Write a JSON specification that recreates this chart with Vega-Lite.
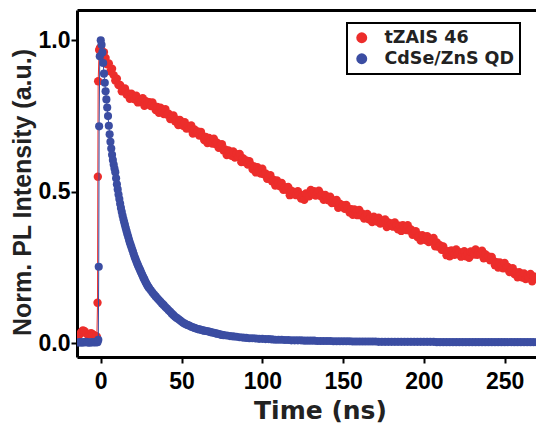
{
"$schema": "https://vega.github.io/schema/vega-lite/v6.json",
"width": 459, "height": 347,
"autosize": {"type": "none"},
"padding": {"left": 77, "top": 10, "right": 0, "bottom": 71},
"background": "white",
"datasets": {
"red": [
{"t":-14,"v":0.022},{"t":-13,"v":0.03},{"t":-12,"v":0.038},{"t":-11,"v":0.043},{"t":-10,"v":0.04},{"t":-9,"v":0.033},{"t":-8,"v":0.028},{"t":-7,"v":0.03},{"t":-6,"v":0.034},{"t":-5,"v":0.03},{"t":-4,"v":0.026},{"t":-3,"v":0.024},{"t":-2.4,"v":0.022},{"t":-2.0,"v":0.134},{"t":-1.8,"v":0.55},{"t":-1.6,"v":0.865},{"t":-1.0,"v":0.968},{"t":-0.5,"v":0.975},
{"t":0,"v":0.976},{"t":1,"v":0.956},{"t":2,"v":0.961},{"t":3,"v":0.942},{"t":4,"v":0.921},{"t":5,"v":0.924},{"t":6,"v":0.898},{"t":7,"v":0.906},{"t":8,"v":0.885},{"t":9,"v":0.867},
{"t":10,"v":0.873},{"t":11,"v":0.852},{"t":12,"v":0.853},{"t":13,"v":0.832},{"t":14,"v":0.839},{"t":15,"v":0.841},{"t":16,"v":0.821},{"t":17,"v":0.825},{"t":18,"v":0.807},{"t":19,"v":0.824},
{"t":20,"v":0.815},{"t":21,"v":0.805},{"t":22,"v":0.817},{"t":23,"v":0.795},{"t":24,"v":0.804},{"t":25,"v":0.797},{"t":26,"v":0.809},{"t":27,"v":0.784},{"t":28,"v":0.799},{"t":29,"v":0.789},
{"t":30,"v":0.796},{"t":31,"v":0.783},{"t":32,"v":0.795},{"t":33,"v":0.783},{"t":34,"v":0.770},{"t":35,"v":0.780},{"t":36,"v":0.761},{"t":37,"v":0.778},{"t":38,"v":0.767},{"t":39,"v":0.757},
{"t":40,"v":0.773},{"t":41,"v":0.755},{"t":42,"v":0.758},{"t":43,"v":0.740},{"t":44,"v":0.750},{"t":45,"v":0.752},{"t":46,"v":0.733},{"t":47,"v":0.738},{"t":48,"v":0.720},{"t":49,"v":0.737},
{"t":50,"v":0.729},{"t":51,"v":0.718},{"t":52,"v":0.730},{"t":53,"v":0.709},{"t":54,"v":0.717},{"t":55,"v":0.709},{"t":56,"v":0.719},{"t":57,"v":0.692},{"t":58,"v":0.706},{"t":59,"v":0.694},
{"t":60,"v":0.699},{"t":61,"v":0.686},{"t":62,"v":0.698},{"t":63,"v":0.685},{"t":64,"v":0.671},{"t":65,"v":0.681},{"t":66,"v":0.661},{"t":67,"v":0.678},{"t":68,"v":0.667},{"t":69,"v":0.659},
{"t":70,"v":0.675},{"t":71,"v":0.658},{"t":72,"v":0.662},{"t":73,"v":0.645},{"t":74,"v":0.655},{"t":75,"v":0.657},{"t":76,"v":0.636},{"t":77,"v":0.640},{"t":78,"v":0.621},{"t":79,"v":0.637},
{"t":80,"v":0.627},{"t":81,"v":0.619},{"t":82,"v":0.633},{"t":83,"v":0.613},{"t":84,"v":0.624},{"t":85,"v":0.615},{"t":86,"v":0.625},{"t":87,"v":0.598},{"t":88,"v":0.611},{"t":89,"v":0.598},
{"t":90,"v":0.604},{"t":91,"v":0.590},{"t":92,"v":0.601},{"t":93,"v":0.589},{"t":94,"v":0.574},{"t":95,"v":0.584},{"t":96,"v":0.564},{"t":97,"v":0.581},{"t":98,"v":0.570},{"t":99,"v":0.560},
{"t":100,"v":0.576},{"t":101,"v":0.558},{"t":102,"v":0.561},{"t":103,"v":0.543},{"t":104,"v":0.552},{"t":105,"v":0.555},{"t":106,"v":0.535},{"t":107,"v":0.539},{"t":108,"v":0.521},{"t":109,"v":0.538},
{"t":110,"v":0.529},{"t":111,"v":0.518},{"t":112,"v":0.529},{"t":113,"v":0.507},{"t":114,"v":0.515},{"t":115,"v":0.507},{"t":116,"v":0.516},{"t":117,"v":0.489},{"t":118,"v":0.504},{"t":119,"v":0.493},
{"t":120,"v":0.500},{"t":121,"v":0.489},{"t":122,"v":0.502},{"t":123,"v":0.491},{"t":124,"v":0.478},{"t":125,"v":0.489},{"t":126,"v":0.474},{"t":127,"v":0.495},{"t":128,"v":0.489},{"t":129,"v":0.485},
{"t":130,"v":0.506},{"t":131,"v":0.493},{"t":132,"v":0.502},{"t":133,"v":0.488},{"t":134,"v":0.500},{"t":135,"v":0.504},{"t":136,"v":0.486},{"t":137,"v":0.491},{"t":138,"v":0.474},{"t":139,"v":0.490},
{"t":140,"v":0.482},{"t":141,"v":0.472},{"t":142,"v":0.484},{"t":143,"v":0.463},{"t":144,"v":0.472},{"t":145,"v":0.463},{"t":146,"v":0.473},{"t":147,"v":0.447},{"t":148,"v":0.461},{"t":149,"v":0.450},
{"t":150,"v":0.456},{"t":151,"v":0.444},{"t":152,"v":0.457},{"t":153,"v":0.445},{"t":154,"v":0.432},{"t":155,"v":0.443},{"t":156,"v":0.424},{"t":157,"v":0.442},{"t":158,"v":0.432},{"t":159,"v":0.423},
{"t":160,"v":0.440},{"t":161,"v":0.423},{"t":162,"v":0.428},{"t":163,"v":0.412},{"t":164,"v":0.423},{"t":165,"v":0.427},{"t":166,"v":0.409},{"t":167,"v":0.415},{"t":168,"v":0.400},{"t":169,"v":0.418},
{"t":170,"v":0.411},{"t":171,"v":0.402},{"t":172,"v":0.415},{"t":173,"v":0.395},{"t":174,"v":0.405},{"t":175,"v":0.398},{"t":176,"v":0.409},{"t":177,"v":0.384},{"t":178,"v":0.399},{"t":179,"v":0.388},
{"t":180,"v":0.396},{"t":181,"v":0.385},{"t":182,"v":0.399},{"t":183,"v":0.389},{"t":184,"v":0.376},{"t":185,"v":0.388},{"t":186,"v":0.371},{"t":187,"v":0.390},{"t":188,"v":0.381},{"t":189,"v":0.374},
{"t":190,"v":0.390},{"t":191,"v":0.372},{"t":192,"v":0.376},{"t":193,"v":0.358},{"t":194,"v":0.367},{"t":195,"v":0.370},{"t":196,"v":0.351},{"t":197,"v":0.356},{"t":198,"v":0.339},{"t":199,"v":0.357},
{"t":200,"v":0.350},{"t":201,"v":0.341},{"t":202,"v":0.354},{"t":203,"v":0.334},{"t":204,"v":0.344},{"t":205,"v":0.337},{"t":206,"v":0.348},{"t":207,"v":0.320},{"t":208,"v":0.333},{"t":209,"v":0.319},
{"t":210,"v":0.324},{"t":211,"v":0.309},{"t":212,"v":0.320},{"t":213,"v":0.306},{"t":214,"v":0.291},{"t":215,"v":0.304},{"t":216,"v":0.287},{"t":217,"v":0.307},{"t":218,"v":0.298},{"t":219,"v":0.292},
{"t":220,"v":0.310},{"t":221,"v":0.295},{"t":222,"v":0.301},{"t":223,"v":0.286},{"t":224,"v":0.298},{"t":225,"v":0.304},{"t":226,"v":0.287},{"t":227,"v":0.295},{"t":228,"v":0.282},{"t":229,"v":0.303},
{"t":230,"v":0.299},{"t":231,"v":0.293},{"t":232,"v":0.310},{"t":233,"v":0.292},{"t":234,"v":0.302},{"t":235,"v":0.295},{"t":236,"v":0.306},{"t":237,"v":0.281},{"t":238,"v":0.294},{"t":239,"v":0.282},
{"t":240,"v":0.287},{"t":241,"v":0.274},{"t":242,"v":0.285},{"t":243,"v":0.273},{"t":244,"v":0.258},{"t":245,"v":0.268},{"t":246,"v":0.250},{"t":247,"v":0.267},{"t":248,"v":0.257},{"t":249,"v":0.248},
{"t":250,"v":0.265},{"t":251,"v":0.248},{"t":252,"v":0.252},{"t":253,"v":0.235},{"t":254,"v":0.245},{"t":255,"v":0.248},{"t":256,"v":0.229},{"t":257,"v":0.234},{"t":258,"v":0.218},{"t":259,"v":0.235},
{"t":260,"v":0.227},{"t":261,"v":0.217},{"t":262,"v":0.231},{"t":263,"v":0.212},{"t":264,"v":0.223},{"t":265,"v":0.217},{"t":266,"v":0.229},{"t":267,"v":0.205},{"t":268,"v":0.221}
],
"blue": [
{"t":-14,"v":0.003},{"t":-13,"v":0.004},{"t":-12,"v":0.002},{"t":-11,"v":0.004},{"t":-10,"v":0.003},{"t":-9,"v":0.005},{"t":-8,"v":0.003},{"t":-7,"v":0.002},{"t":-6,"v":0.004},{"t":-5,"v":0.003},{"t":-4,"v":0.004},{"t":-3,"v":0.003},{"t":-2,"v":0.004},
{"t":-1.5,"v":0.012},{"t":-1.25,"v":0.253},{"t":-1.0,"v":0.716},{"t":-0.6,"v":0.947},
{"t":0,"v":1.0},{"t":0.5,"v":0.985},{"t":1,"v":0.96},{"t":1.5,"v":0.925},{"t":2,"v":0.89},{"t":2.5,"v":0.86},{"t":3,"v":0.832},{"t":3.5,"v":0.805},{"t":4,"v":0.778},{"t":4.5,"v":0.75},
{"t":5,"v":0.718},{"t":5.5,"v":0.69},{"t":6,"v":0.665},{"t":6.5,"v":0.643},{"t":7,"v":0.622},{"t":7.5,"v":0.605},{"t":8,"v":0.59},{"t":8.5,"v":0.577},{"t":9,"v":0.565},{"t":9.5,"v":0.545},
{"t":10,"v":0.525},{"t":10.5,"v":0.508},{"t":11,"v":0.491},{"t":11.5,"v":0.476},{"t":12,"v":0.461},{"t":12.5,"v":0.447},{"t":13,"v":0.434},{"t":13.5,"v":0.422},{"t":14,"v":0.41},{"t":14.5,"v":0.4},
{"t":15,"v":0.39},{"t":15.5,"v":0.38},{"t":16,"v":0.37},{"t":16.5,"v":0.36},{"t":17,"v":0.351},{"t":17.5,"v":0.342},{"t":18,"v":0.333},{"t":18.5,"v":0.325},{"t":19,"v":0.317},{"t":19.5,"v":0.309},
{"t":20,"v":0.301},{"t":20.5,"v":0.293},{"t":21,"v":0.285},{"t":21.5,"v":0.278},{"t":22,"v":0.271},{"t":22.5,"v":0.264},{"t":23,"v":0.258},{"t":23.5,"v":0.252},{"t":24,"v":0.246},{"t":24.5,"v":0.24},
{"t":25,"v":0.234},{"t":25.5,"v":0.228},{"t":26,"v":0.222},{"t":26.5,"v":0.216},{"t":27,"v":0.211},{"t":27.5,"v":0.205},{"t":28,"v":0.2},{"t":28.5,"v":0.195},{"t":29,"v":0.19},{"t":29.5,"v":0.186},
{"t":30,"v":0.182},{"t":31,"v":0.175},{"t":32,"v":0.168},{"t":33,"v":0.161},{"t":34,"v":0.155},{"t":35,"v":0.149},{"t":36,"v":0.143},{"t":37,"v":0.137},{"t":38,"v":0.131},{"t":39,"v":0.126},
{"t":40,"v":0.12},{"t":41,"v":0.115},{"t":42,"v":0.109},{"t":43,"v":0.104},{"t":44,"v":0.098},{"t":45,"v":0.093},{"t":46,"v":0.088},{"t":47,"v":0.084},{"t":48,"v":0.08},{"t":49,"v":0.076},
{"t":50,"v":0.072},{"t":51,"v":0.068},{"t":52,"v":0.065},{"t":53,"v":0.062},{"t":54,"v":0.06},{"t":55,"v":0.058},{"t":56,"v":0.055},{"t":57,"v":0.053},{"t":58,"v":0.051},{"t":59,"v":0.049},
{"t":60,"v":0.047},{"t":61,"v":0.046},{"t":62,"v":0.045},{"t":63,"v":0.043},{"t":64,"v":0.042},{"t":65,"v":0.041},{"t":66,"v":0.04},{"t":67,"v":0.039},{"t":68,"v":0.037},{"t":69,"v":0.036},
{"t":70,"v":0.035},{"t":71,"v":0.033},{"t":72,"v":0.032},{"t":73,"v":0.031},{"t":74,"v":0.029},{"t":75,"v":0.028},
{"t":76,"v":0.027},{"t":78,"v":0.026},{"t":80,"v":0.024},{"t":82,"v":0.023},{"t":84,"v":0.022},{"t":86,"v":0.02},{"t":88,"v":0.019},{"t":90,"v":0.018},{"t":92,"v":0.017},{"t":94,"v":0.017},
{"t":96,"v":0.016},{"t":98,"v":0.015},{"t":100,"v":0.015},{"t":102,"v":0.014},{"t":104,"v":0.014},{"t":106,"v":0.013},{"t":108,"v":0.012},{"t":110,"v":0.012},{"t":112,"v":0.012},{"t":114,"v":0.011},
{"t":116,"v":0.011},{"t":118,"v":0.01},{"t":120,"v":0.01},{"t":122,"v":0.01},{"t":124,"v":0.01},{"t":126,"v":0.009},{"t":128,"v":0.009},{"t":130,"v":0.009},{"t":132,"v":0.009},{"t":134,"v":0.008},
{"t":136,"v":0.008},{"t":138,"v":0.008},{"t":140,"v":0.008},{"t":142,"v":0.008},{"t":144,"v":0.007},{"t":146,"v":0.007},{"t":148,"v":0.007},{"t":150,"v":0.007},{"t":152,"v":0.007},{"t":154,"v":0.007},
{"t":156,"v":0.006},{"t":158,"v":0.006},{"t":160,"v":0.006},{"t":162,"v":0.006},{"t":164,"v":0.006},{"t":166,"v":0.006},{"t":168,"v":0.006},{"t":170,"v":0.006},{"t":172,"v":0.005},{"t":174,"v":0.005},
{"t":176,"v":0.005},{"t":178,"v":0.005},{"t":180,"v":0.005},{"t":182,"v":0.005},{"t":184,"v":0.005},{"t":186,"v":0.005},{"t":188,"v":0.005},{"t":190,"v":0.005},{"t":192,"v":0.005},{"t":194,"v":0.005},
{"t":196,"v":0.005},{"t":198,"v":0.005},{"t":200,"v":0.005},{"t":202,"v":0.005},{"t":204,"v":0.005},{"t":206,"v":0.005},{"t":208,"v":0.004},{"t":210,"v":0.004},{"t":212,"v":0.004},{"t":214,"v":0.004},
{"t":216,"v":0.004},{"t":218,"v":0.004},{"t":220,"v":0.004},{"t":222,"v":0.004},{"t":224,"v":0.004},{"t":226,"v":0.004},{"t":228,"v":0.004},{"t":230,"v":0.004},{"t":232,"v":0.004},{"t":234,"v":0.004},
{"t":236,"v":0.004},{"t":238,"v":0.004},{"t":240,"v":0.004},{"t":242,"v":0.004},{"t":244,"v":0.004},{"t":246,"v":0.004},{"t":248,"v":0.004},{"t":250,"v":0.004},{"t":252,"v":0.004},{"t":254,"v":0.004},
{"t":256,"v":0.004},{"t":258,"v":0.004},{"t":260,"v":0.004},{"t":262,"v":0.004},{"t":264,"v":0.004},{"t":266,"v":0.004},{"t":268,"v":0.004},{"t":270,"v":0.004}
]
},
"resolve": {"axis": {"x": "independent"}},
"layer": [
{
"data": {"name": "red"},
"mark": {"type": "line", "color": "#EC2D2B", "strokeWidth": 1, "clip": true},
"encoding": {
"x": {"field": "t", "type": "quantitative",
"scale": {"domain": [-14.7, 269.4], "nice": false, "zero": false},
"axis": {"orient": "bottom", "values": [0, 50, 100, 150, 200, 250], "title": "Time (ns)", "labelPadding": 7, "titlePadding": 5, "titleX": 243, "titleFont": "DejaVu Sans", "titleFontSize": 25}},
"y": {"field": "v", "type": "quantitative",
"scale": {"domain": [-0.045, 1.1], "nice": false, "zero": false},
"axis": {"values": [0, 0.5, 1.0], "format": ".1f", "title": "Norm. PL Intensity (a.u.)", "labelPadding": 1, "titlePadding": 3, "titleY": 182, "titleFontSize": 25}}
}
},
{
"data": {"name": "red"},
"mark": {"type": "point", "filled": true, "shape": "circle", "size": 70, "opacity": 1, "clip": true},
"encoding": {
"x": {"field": "t", "type": "quantitative", "axis": null},
"y": {"field": "v", "type": "quantitative"},
"color": {"datum": "tZAIS 46", "type": "nominal",
"scale": {"domain": ["tZAIS 46", "CdSe/ZnS QD"], "range": ["#EC2D2B", "#3B4DA2"]},
"legend": {"title": null}}
}
},
{
"data": {"name": "blue"},
"mark": {"type": "line", "color": "#3B4DA2", "strokeWidth": 1, "clip": true},
"encoding": {
"x": {"field": "t", "type": "quantitative", "axis": null},
"y": {"field": "v", "type": "quantitative"}
}
},
{
"data": {"name": "blue"},
"mark": {"type": "point", "filled": true, "shape": "circle", "size": 66, "opacity": 1, "clip": true},
"encoding": {
"x": {"field": "t", "type": "quantitative",
"axis": {"orient": "top", "labels": false, "ticks": false, "title": null, "domain": true}},
"y": {"field": "v", "type": "quantitative"},
"color": {"datum": "CdSe/ZnS QD", "type": "nominal"}
}
}
],
"config": {
"font": "Liberation Sans",
"view": {"stroke": null},
"axis": {
"grid": false, "domainColor": "black", "domainWidth": 3, "tickColor": "black", "tickWidth": 2, "tickSize": 6,
"labelColor": "black", "labelFont": "Liberation Sans", "labelFontSize": 23, "labelFontWeight": "bold",
"titleColor": "#222222", "titleFont": "Liberation Sans", "titleFontSize": 25, "titleFontWeight": "bold"
},
"legend": {
"orient": "none", "legendX": 270, "legendY": 13,
"strokeColor": "black", "strokeWidth": 2, "fillColor": "white", "padding": 6,
"symbolType": "circle", "symbolSize": 120, "symbolOpacity": 1, "symbolStrokeWidth": 0,
"labelFont": "DejaVu Sans", "labelFontSize": 17.5, "labelFontWeight": "bold", "labelColor": "#222222",
"labelOffset": 14, "rowPadding": 2
}
}
}
